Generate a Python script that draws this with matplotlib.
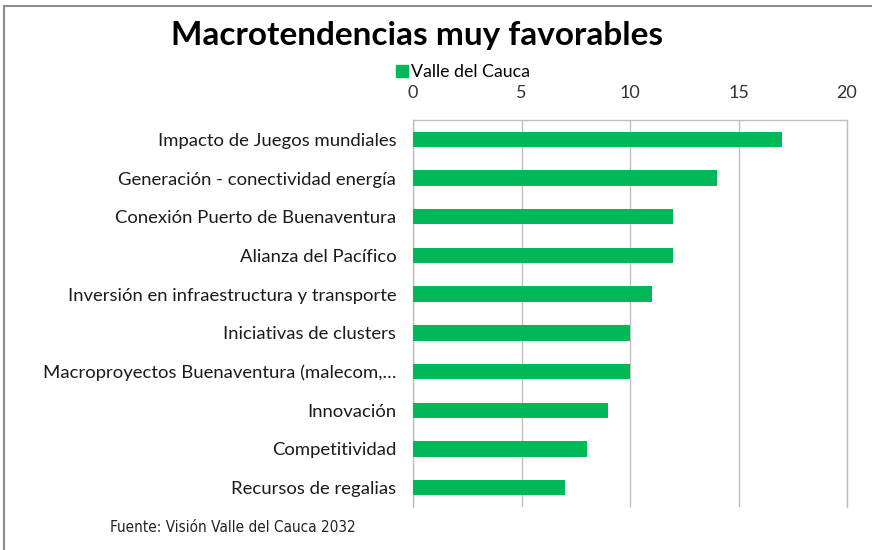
import matplotlib

matplotlib.use("Agg")
import matplotlib.pyplot as plt  # noqa: E402
from matplotlib.lines import Line2D  # noqa: E402

GREEN = "#00b858"
GRID = "#bfbfbf"

categories = [
    "Impacto de Juegos mundiales",
    "Generación - conectividad energía",
    "Conexión Puerto de Buenaventura",
    "Alianza del Pacífico",
    "Inversión en infraestructura y transporte",
    "Iniciativas de clusters",
    "Macroproyectos Buenaventura (malecom,…",
    "Innovación",
    "Competitividad",
    "Recursos de regalias",
]
values = [17, 14, 12, 12, 11, 10, 10, 9, 8, 7]
xticks = [0, 5, 10, 15, 20]

plt.rcParams["font.family"] = ["Lato", "DejaVu Sans"]

fig = plt.figure(figsize=(8.72, 5.5), dpi=100)
ax = fig.add_axes([413 / 872, 1 - 507 / 550, (847 - 413) / 872, (507 - 120) / 550])

ypos = list(range(len(categories)))
ax.barh(ypos, values, height=0.4, color=GREEN, zorder=3)
ax.set_ylim(len(categories) - 0.5, -0.5)
ax.set_xlim(0, 20)
ax.set_yticks(ypos)
ax.set_yticklabels(categories, fontsize=13.3, color="#1a1a1a")
ax.set_xticks(xticks)
ax.xaxis.tick_top()
ax.tick_params(axis="x", length=0, pad=14, labelsize=13, labelcolor="#333333")
ax.tick_params(axis="y", length=0, pad=12)
ax.grid(True, axis="x", color=GRID, linewidth=1, zorder=0)
for side in ("top", "right", "left"):
    ax.spines[side].set_color(GRID)
    ax.spines[side].set_linewidth(1)
ax.spines["bottom"].set_visible(False)

fig.text(417 / 872, 1 - 35 / 550, "Macrotendencias muy favorables",
         ha="center", va="center", fontsize=24, fontweight="bold", color="black")

handle = Line2D([], [], marker="s", linestyle="none", color=GREEN, markersize=8)
fig.legend([handle], ["Valle del Cauca"], loc="center", bbox_to_anchor=(462 / 872, 1 - 72 / 550),
           frameon=False, fontsize=12.8, handletextpad=0.1, borderpad=0, handlelength=0.8)

fig.text(110 / 872, 1 - 527 / 550, "Fuente: Visión Valle del Cauca 2032",
         ha="left", va="center", fontsize=11, fontstretch="condensed",
         family=["Liberation Sans Narrow", "DejaVu Sans"], color="#222222")

# chart border (left and top edges)
fig.add_artist(Line2D([4 / 872, 4 / 872], [0, 1 - 6 / 550], transform=fig.transFigure,
                      color="#8c8c8c", linewidth=1.5))
fig.add_artist(Line2D([4 / 872, 1], [1 - 6 / 550, 1 - 6 / 550], transform=fig.transFigure,
                      color="#8c8c8c", linewidth=1.5))

fig.savefig("out.png", dpi=100, facecolor="white")
